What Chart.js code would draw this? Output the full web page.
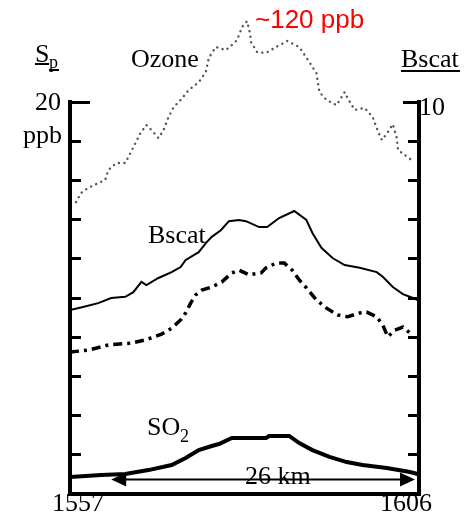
<!DOCTYPE html>
<html>
<head>
<meta charset="utf-8">
<script src="https://cdn.jsdelivr.net/npm/chart.js@4"></script>
<style>
  body { margin: 0; background: #fff; }
  canvas { display: block; }
</style>
</head>
<body>
<canvas id="grafica" width="465" height="515"></canvas>
<script>
// Datos (x en km a lo largo del transecto, 0 = 1557, 26 = 1606)
const ozoneKm = [0.45, 0.82, 1.35, 2.10, 2.62, 2.85, 3.45, 4.12, 4.50, 4.87, 5.25, 5.69, 6.07, 6.59, 6.97,
    7.34, 7.72, 8.24, 8.84, 9.59, 10.12, 10.34, 10.86, 11.61, 12.06, 12.44, 12.81, 13.19, 13.41, 13.49,
    13.94, 14.61, 15.36, 16.18, 17.08, 17.83, 18.36, 18.58, 19.11, 19.86, 20.46, 20.68, 21.20, 21.95,
    22.55, 22.85, 23.23, 23.68, 24.05, 24.35, 24.43, 24.95, 25.55];
const ozonePpb = [73.7, 76.0, 77.3, 78.5, 79.3, 81.8, 83.6, 83.6, 86.1, 88.6, 91.2, 93.2, 91.9, 89.9, 91.9,
    95.2, 97.7, 99.5, 102.0, 104.0, 106.6, 110.1, 112.9, 112.1, 113.4, 114.6, 117.9, 119.4, 116.4, 114.1,
    111.6, 111.4, 112.9, 114.4, 112.9, 109.1, 106.3, 101.5, 99.5, 98.2, 101.5, 100.0, 97.0, 97.5,
    95.2, 92.4, 89.4, 91.4, 93.4, 89.9, 86.9, 85.6, 84.1];

const bscatKm = [0, 0.97, 2.10, 3.07, 4.12, 4.72, 5.32, 5.69, 6.59, 7.57, 8.24, 8.62, 9.59, 10.12, 10.56,
    11.24, 11.84, 12.59, 13.11, 14.09, 14.69, 15.58, 16.71, 17.61, 18.06, 18.73, 19.56, 20.46, 21.58,
    22.85, 23.30, 24.05, 24.80, 25.55, 25.9];
const bscatVal = [4.69, 4.77, 4.87, 5.00, 5.03, 5.15, 5.41, 5.33, 5.51, 5.66, 5.79, 5.97, 6.17, 6.40, 6.56,
    6.73, 6.96, 6.99, 6.96, 6.81, 6.81, 7.04, 7.22, 6.99, 6.66, 6.28, 6.02, 5.84, 5.77,
    5.66, 5.54, 5.28, 5.10, 5.00, 4.95];

const dashKm = [0, 1.35, 2.85, 4.57, 5.62, 6.82, 7.57, 8.24, 8.62, 8.99, 9.37, 9.82, 10.56, 11.31, 12.06,
    12.59, 13.34, 14.24, 14.61, 15.36, 15.96, 16.56, 17.08, 17.61, 18.36, 19.11, 19.93, 20.68, 21.58,
    22.10, 22.85, 23.30, 23.68, 24.20, 24.80, 25.48];
const dashVal = [3.62, 3.67, 3.80, 3.85, 3.93, 4.08, 4.23, 4.44, 4.62, 4.87, 5.08, 5.20, 5.28, 5.41, 5.64,
    5.71, 5.59, 5.64, 5.77, 5.89, 5.89, 5.71, 5.46, 5.26, 4.95, 4.74, 4.57, 4.52, 4.62,
    4.64, 4.52, 4.31, 4.01, 4.18, 4.26, 4.06];

const so2Km = [0, 2.32, 4.12, 5.84, 7.57, 8.62, 9.59, 10.56, 11.09, 12.06, 14.61, 14.84, 16.33, 17.08,
    18.06, 19.33, 20.61, 21.80, 23.60, 25.33, 25.9];
const so2Ppb = [0.87, 0.97, 1.02, 1.22, 1.48, 1.84, 2.24, 2.45, 2.55, 2.86, 2.86, 2.96, 2.96, 2.60,
    2.24, 1.89, 1.63, 1.48, 1.33, 1.12, 1.02];

// Ejes
const xRango = [0, 26];
const spRango = [0, 20];      // S_p en ppb (izquierda)
const bscatRango = [0, 10];   // Bscat (derecha)
const ozoneRango = [0, 99];   // escala oculta del ozono
const tiempos = ["1557", "1606"];
const flechaKm = [3.07, 25.7];

const puntos = (xs, ys) => xs.map((x, i) => ({ x, y: ys[i] }));

const serif = "'Liberation Serif', 'Times New Roman', serif";

// Textos, flecha y tick largo superior
const textosPlugin = {
    id: "textos",
    afterDatasetsDraw(chart) {
        const ctx = chart.ctx;
        const sx = chart.scales.x;
        const sl = chart.scales.ySp;
        const sr = chart.scales.yBscat;
        ctx.save();

        // ticks superiores mas largos
        ctx.fillStyle = "#000";
        ctx.fillRect(sl.right, sl.getPixelForValue(20) - 1, 20, 3);
        ctx.fillRect(sr.left - 16, sr.getPixelForValue(10) - 1, 16, 3);

        // flecha de 26 km
        const yFlecha = sl.getPixelForValue(0.74);
        const x1 = sx.getPixelForValue(flechaKm[0]);
        const x2 = sx.getPixelForValue(flechaKm[1]);
        ctx.strokeStyle = "#000";
        ctx.lineWidth = 2;
        ctx.beginPath();
        ctx.moveTo(x1 + 10, yFlecha);
        ctx.lineTo(x2 - 10, yFlecha);
        ctx.stroke();
        ctx.beginPath();
        ctx.moveTo(x1, yFlecha);
        ctx.lineTo(x1 + 15, yFlecha - 7);
        ctx.lineTo(x1 + 15, yFlecha + 7);
        ctx.closePath();
        ctx.fill();
        ctx.beginPath();
        ctx.moveTo(x2, yFlecha);
        ctx.lineTo(x2 - 15, yFlecha - 7);
        ctx.lineTo(x2 - 15, yFlecha + 7);
        ctx.closePath();
        ctx.fill();

        ctx.textBaseline = "alphabetic";
        ctx.textAlign = "left";
        ctx.font = "26px " + serif;
        ctx.fillText("S", 35, 62);
        ctx.fillRect(35, 63, 14, 2);
        ctx.font = "18px " + serif;
        ctx.fillText("p", 49, 68);
        ctx.fillRect(49, 69, 10, 2);

        ctx.font = "26px " + serif;
        ctx.fillText("20", 35, 110);
        ctx.fillText("ppb", 23, 143);
        ctx.fillText("Ozone", 131, 67);
        ctx.fillText("Bscat", 401, 67);
        ctx.fillRect(401, 70, 59, 2);
        ctx.fillText("10", 419, 115);
        ctx.fillText("Bscat", 148, 243);
        ctx.fillText("SO", 147, 435);
        ctx.font = "18px " + serif;
        ctx.fillText("2", 180, 442);
        ctx.font = "26px " + serif;
        ctx.fillText("26 km", 245, 484);
        ctx.textAlign = "center";
        ctx.fillText(tiempos[0], sx.getPixelForValue(xRango[0]) + 8, 511);
        ctx.fillText(tiempos[1], sx.getPixelForValue(xRango[1]) - 13, 511);

        ctx.textAlign = "left";
        ctx.fillStyle = "#ff0000";
        ctx.font = "26px 'Liberation Sans', Arial, sans-serif";
        ctx.fillText("~120 ppb", 255, 28);

        ctx.restore();
    }
};

const ejeVertical = (pos, rango, paso) => ({
    type: "linear",
    position: pos,
    min: rango[0],
    max: rango[1],
    ticks: { display: false, stepSize: paso },
    grid: { drawOnChartArea: false, drawTicks: true, tickLength: -11, tickWidth: 3, tickColor: "#000" },
    border: { display: true, width: 4, color: "#000" },
    afterFit: s => { s.width = 0; }
});

new Chart(document.getElementById("grafica"), {
    type: "line",
    data: {
        datasets: [
            {
                label: "Ozone",
                data: puntos(ozoneKm, ozonePpb),
                yAxisID: "yOzone",
                borderColor: "#555",
                borderWidth: 2.4,
                borderCapStyle: "round",
                borderDash: [0.1, 5.5],
                pointRadius: 0,
                clip: false
            },
            {
                label: "Bscat",
                data: puntos(bscatKm, bscatVal),
                yAxisID: "yBscat",
                borderColor: "#000",
                borderWidth: 2,
                pointRadius: 0
            },
            {
                label: "Bscat2",
                data: puntos(dashKm, dashVal),
                yAxisID: "yBscat",
                borderColor: "#000",
                borderWidth: 3.5,
                borderDash: [9, 5, 3, 5],
                pointRadius: 0
            },
            {
                label: "SO2",
                data: puntos(so2Km, so2Ppb),
                yAxisID: "ySp",
                borderColor: "#000",
                borderWidth: 4,
                pointRadius: 0
            }
        ]
    },
    options: {
        responsive: false,
        animation: false,
        layout: { padding: { left: 70, right: 46, top: 102, bottom: 21 } },
        plugins: { legend: { display: false }, tooltip: { enabled: false } },
        scales: {
            x: {
                type: "linear",
                min: xRango[0],
                max: xRango[1],
                ticks: { display: false },
                grid: { display: false },
                border: { display: true, width: 4, color: "#000" },
                afterFit: s => { s.height = 0; }
            },
            ySp: ejeVertical("left", spRango, 2),
            yBscat: ejeVertical("right", bscatRango, 1),
            yOzone: {
                type: "linear",
                display: false,
                min: ozoneRango[0],
                max: ozoneRango[1]
            }
        }
    },
    plugins: [textosPlugin]
});
</script>
</body>
</html>
